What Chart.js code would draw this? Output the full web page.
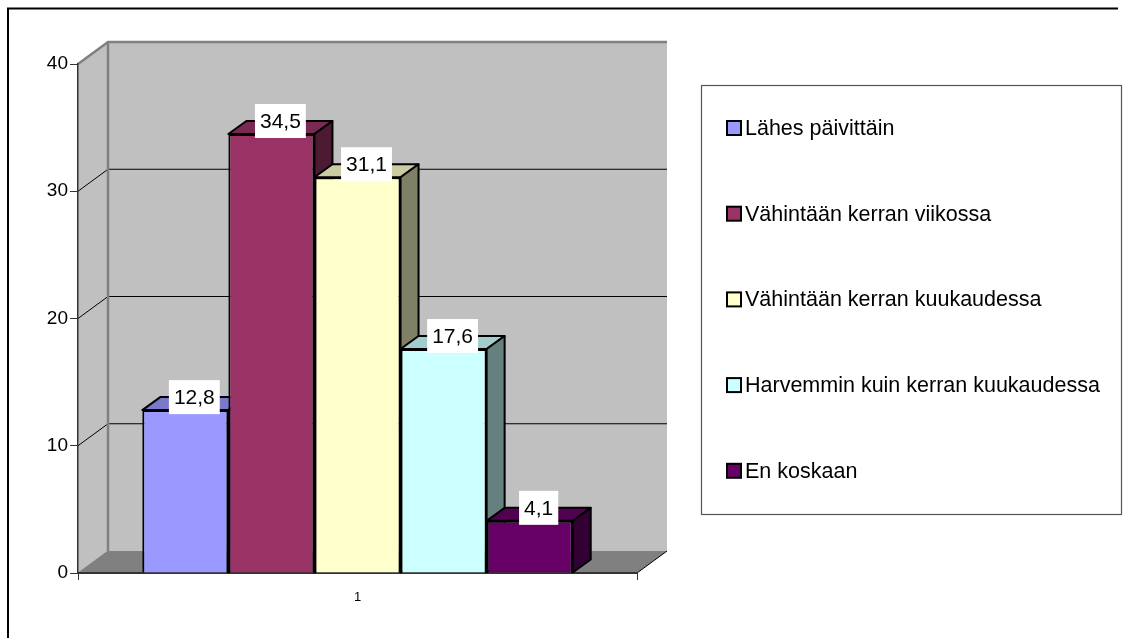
<!DOCTYPE html>
<html>
<head>
<meta charset="utf-8">
<script src="https://cdn.jsdelivr.net/npm/chart.js@4.4.0/dist/chart.umd.min.js"></script>
<style>
  body { margin: 0; background: #fff; }
  canvas { display: block; }
</style>
</head>
<body>
<canvas id="chart" width="1128" height="638"></canvas>
<script>
//data
var categories = ["1"];
var seriesLabels = ["Lähes päivittäin", "Vähintään kerran viikossa", "Vähintään kerran kuukaudessa", "Harvemmin kuin kerran kuukaudessa", "En koskaan"];
var seriesValues = [12.8, 34.5, 31.1, 17.6, 4.1];
var yTicks = [0, 10, 20, 30, 40];

var seriesColors = ["#9999FF", "#993366", "#FFFFCC", "#CCFFFF", "#660066"];
var FONT = "'Liberation Sans', Arial, sans-serif";

//3d depth of walls and bars
var WALL_DX = 30, WALL_DY = -22;
var BAR_DX = 18, BAR_DY = -13;

function shade(hex, f) {
    var n = parseInt(hex.slice(1), 16);
    var r = Math.round(((n >> 16) & 255) * f);
    var g = Math.round(((n >> 8) & 255) * f);
    var b = Math.round((n & 255) * f);
    return "rgb(" + r + "," + g + "," + b + ")";
}

function poly(ctx, pts, fill, stroke, lw) {
    ctx.beginPath();
    ctx.moveTo(pts[0][0], pts[0][1]);
    for (var i = 1; i < pts.length; i++) ctx.lineTo(pts[i][0], pts[i][1]);
    ctx.closePath();
    if (fill) { ctx.fillStyle = fill; ctx.fill(); }
    if (stroke) { ctx.strokeStyle = stroke; ctx.lineWidth = lw || 1; ctx.stroke(); }
}

function line(ctx, x1, y1, x2, y2, color, lw) {
    ctx.beginPath();
    ctx.moveTo(x1, y1);
    ctx.lineTo(x2, y2);
    ctx.strokeStyle = color;
    ctx.lineWidth = lw;
    ctx.stroke();
}

//walls, floor and gridlines
var wallsPlugin = {
    id: "walls",
    beforeDraw: function(chart) {
        var ctx = chart.ctx, a = chart.chartArea, ys = chart.scales.y;
        var L = a.left, R = a.right;
        var T = ys.getPixelForValue(yTicks[yTicks.length - 1]), B = ys.getPixelForValue(0);
        ctx.save();
        ctx.lineJoin = "round";
        poly(ctx, [[L + WALL_DX, T + WALL_DY], [R + WALL_DX, T + WALL_DY], [R + WALL_DX, B + WALL_DY], [L + WALL_DX, B + WALL_DY]], "#C0C0C0");
        poly(ctx, [[L, T], [L + WALL_DX, T + WALL_DY], [L + WALL_DX, B + WALL_DY], [L, B]], "#C0C0C0");
        poly(ctx, [[L, B], [R, B], [R + WALL_DX, B + WALL_DY], [L + WALL_DX, B + WALL_DY]], "#808080");
        yTicks.forEach(function(v) {
            if (v === 0 || v === yTicks[yTicks.length - 1]) return;
            var y = ys.getPixelForValue(v);
            line(ctx, L + WALL_DX, y + WALL_DY, R + WALL_DX, y + WALL_DY, "#000", 1);
            line(ctx, L, y, L + WALL_DX, y + WALL_DY, "#000", 1);
        });
        //wall edges
        line(ctx, L + WALL_DX, T + WALL_DY, L + WALL_DX, B + WALL_DY, "#808080", 2.5);
        ctx.beginPath();
        ctx.moveTo(L, T);
        ctx.lineTo(L + WALL_DX, T + WALL_DY);
        ctx.lineTo(R + WALL_DX, T + WALL_DY);
        ctx.strokeStyle = "#808080";
        ctx.lineWidth = 2.5;
        ctx.stroke();
        line(ctx, L + WALL_DX, B + WALL_DY, L, B, "#808080", 1);
        line(ctx, R, B, R + WALL_DX, B + WALL_DY, "#000", 1);
        ctx.restore();
    },
    beforeDatasetsDraw: function(chart) {
        //top and side faces of the bars, fronts are drawn by chart.js on top
        var ctx = chart.ctx;
        ctx.save();
        ctx.lineJoin = "round";
        chart.data.datasets.forEach(function(ds, i) {
            var el = chart.getDatasetMeta(i).data[0];
            var l = el.x - el.width / 2, r = el.x + el.width / 2, t = el.y, b = el.base;
            var c = seriesColors[i];
            poly(ctx, [[l, t], [l + BAR_DX, t + BAR_DY], [r + BAR_DX, t + BAR_DY], [r, t]], shade(c, 0.8), "#000", 2);
            poly(ctx, [[r, t], [r + BAR_DX, t + BAR_DY], [r + BAR_DX, b + BAR_DY], [r, b]], shade(c, 0.5), "#000", 2);
        });
        ctx.restore();
    },
    afterDatasetsDraw: function(chart) {
        //value labels in white boxes
        var ctx = chart.ctx;
        ctx.save();
        ctx.font = "21px " + FONT;
        ctx.textAlign = "center";
        ctx.textBaseline = "middle";
        chart.data.datasets.forEach(function(ds, i) {
            var el = chart.getDatasetMeta(i).data[0];
            var txt = ds.data[0].toFixed(1).replace(".", ",");
            var w = ctx.measureText(txt).width + 10, h = 34;
            var cx = el.x + BAR_DX / 2, cy = el.y + BAR_DY;
            ctx.fillStyle = "#fff";
            ctx.fillRect(cx - w / 2, cy - h / 2, w, h);
            ctx.fillStyle = "#000";
            ctx.fillText(txt, cx, cy + 1);
        });
        ctx.restore();
    },
    afterDraw: function(chart) {
        var ctx = chart.ctx;
        ctx.save();
        //outer frame (top and left only, picture is cropped)
        line(ctx, 7, 8.5, 1118, 8.5, "#000", 2);
        line(ctx, 8, 8, 8, 638, "#000", 2);
        //legend
        ctx.strokeStyle = "#555";
        ctx.lineWidth = 1.2;
        ctx.strokeRect(701.5, 85.5, 420, 429);
        ctx.font = "21.5px " + FONT;
        ctx.textBaseline = "middle";
        ctx.textAlign = "left";
        chart.data.datasets.forEach(function(ds, i) {
            var cy = 128 + i * 85.7;
            ctx.fillStyle = ds.backgroundColor;
            ctx.fillRect(727, cy - 7, 14, 14);
            ctx.strokeStyle = "#000";
            ctx.lineWidth = 2;
            ctx.strokeRect(727, cy - 7, 14, 14);
            ctx.fillStyle = "#000";
            ctx.fillText(ds.label, 745, cy + 1);
        });
        ctx.restore();
    }
};

var datasets = seriesLabels.map(function(lbl, i) {
    return {
        label: lbl,
        data: [seriesValues[i]],
        backgroundColor: seriesColors[i],
        borderColor: "#000",
        borderWidth: 2,
        categoryPercentage: 0.77,
        barPercentage: 1.0
    };
});

var chart = new Chart(document.getElementById("chart"), {
    type: "bar",
    data: { labels: categories, datasets: datasets },
    options: {
        responsive: false,
        animation: false,
        layout: { padding: { left: 0, top: 64, right: 491, bottom: 0 } },
        plugins: {
            legend: { display: false },
            tooltip: { enabled: false }
        },
        scales: {
            x: {
                offset: true,
                grid: { offset: true, drawOnChartArea: false, tickLength: 7, color: "#333", lineWidth: 1 },
                border: { display: true, color: "#333", width: 2 },
                ticks: { color: "#000", font: { family: FONT, size: 13 }, padding: 10 },
                afterFit: function(scale) { scale.height = 65; }
            },
            y: {
                min: 0,
                max: 40,
                ticks: { stepSize: 10, color: "#000", font: { family: FONT, size: 19 }, padding: 2 },
                grid: { drawOnChartArea: false, tickLength: 8, color: "#333", lineWidth: 1 },
                border: { display: true, color: "#333", width: 1.5 },
                afterFit: function(scale) { scale.width = 78; }
            }
        }
    },
    plugins: [wallsPlugin]
});
</script>
</body>
</html>
